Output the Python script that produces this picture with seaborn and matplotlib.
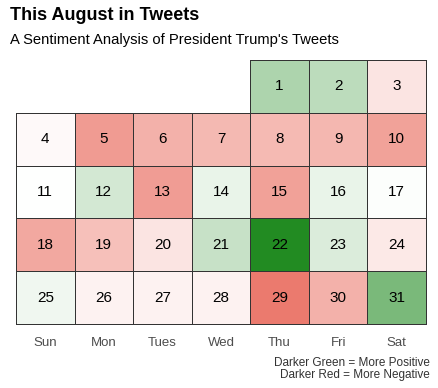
import numpy as np
import pandas as pd
import seaborn as sns
import matplotlib.pyplot as plt
from matplotlib.colors import LinearSegmentedColormap

sns.set_theme(style="white")
plt.rcParams["font.family"] = ["Liberation Sans", "DejaVu Sans"]

# sentiment score per day of August (negative = red, positive = green)
days = list(range(1, 32))
sentiment = [
    0.37, 0.30, -0.20, -0.04, -0.75, -0.58, -0.53,
    -0.52, -0.54, -0.70, 0.00, 0.20, -0.74, 0.10,
    -0.71, 0.10, 0.01, -0.65, -0.47, -0.20, 0.25,
    1.00, 0.16, -0.17, 0.07, -0.10, -0.10, -0.10,
    -1.00, -0.58, 0.60,
]
weekdays = ["Sun", "Mon", "Tues", "Wed", "Thu", "Fri", "Sat"]
first_weekday = 4  # Aug 1 is a Thursday

df = pd.DataFrame({"day": days, "score": sentiment})
pos = df["day"] - 1 + first_weekday
df["week"] = pos // 7
df["weekday"] = pos % 7

grid = df.pivot(index="week", columns="weekday", values="score").reindex(columns=range(7))
labels = df.pivot(index="week", columns="weekday", values="day").reindex(columns=range(7))
labels = labels.map(lambda v: "" if pd.isna(v) else str(int(v)))

cmap = LinearSegmentedColormap.from_list(
    "sent", [(0.0, "#EB7A6E"), (0.5, "#FFFFFF"), (1.0, "#228B22")]
)

fig = plt.figure(figsize=(4.39, 3.88), dpi=100)
ax = fig.add_axes([16 / 439, 1 - 324 / 388, 410 / 439, 264 / 388])

sns.heatmap(
    grid, ax=ax, cmap=cmap, vmin=-1, vmax=1, cbar=False,
    annot=labels.values, fmt="", linewidths=0.65, linecolor="#333333",
    annot_kws={"size": 11, "color": "black"},
)
mesh = ax.collections[0]
mesh.set_clip_on(False)
# hide the outline of the empty days before the 1st
empty = grid.isna().values.ravel()
edge = np.array([(0.2, 0.2, 0.2, 1.0)] * len(empty))
edge[empty] = (0, 0, 0, 0)
mesh.set_edgecolors(edge)

ax.set_xticks(np.arange(7) + 0.5)
ax.set_xticklabels(weekdays, fontsize=9.5, color="#4D4D4D")
ax.tick_params(axis="x", length=0, pad=9)
ax.set_yticks([])
ax.set_xlabel("")
ax.set_ylabel("")
for s in ax.spines.values():
    s.set_visible(False)

fig.text(10 / 439, 1 - 16 / 388, "This August in Tweets", fontsize=13,
         fontweight="bold", va="center", ha="left", color="black")
fig.text(10 / 439, 1 - 40 / 388, "A Sentiment Analysis of President Trump's Tweets",
         fontsize=10.6, va="center", ha="left", color="black")
fig.text(430 / 439, 1 - 369 / 388,
         "Darker Green = More Positive\nDarker Red = More Negative",
         fontsize=8.5, color="#333333", ha="right", va="center", linespacing=0.95)

fig.savefig("out.png", dpi=100)
